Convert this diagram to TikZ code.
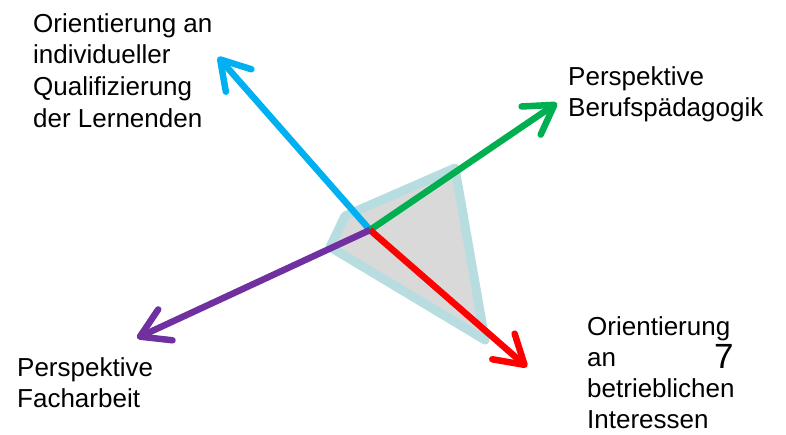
\documentclass[tikz,border=0pt]{standalone}
\usepackage{fontspec}
\setmainfont{Liberation Sans}
\usetikzlibrary{arrows.meta}
\definecolor{cblue}{HTML}{00B0F0}
\definecolor{cgreen}{HTML}{00B050}
\definecolor{cred}{HTML}{FF0000}
\definecolor{cpurple}{HTML}{7030A0}
\definecolor{cedge}{HTML}{B7DDE0}
\definecolor{cfill}{HTML}{D9D9D9}
\tikzset{
  vec/.style={line width=6.5pt, -{Straight Barb[length=28pt,width=34pt,line cap=round,line join=round]}},
  lbl/.style={align=left, anchor=north west, inner sep=0pt, font=\fontsize{26}{31.7}\selectfont},
}
\begin{document}
\begin{tikzpicture}[x=1pt,y=-1pt]
\useasboundingbox (0,0) rectangle (786,434);
\path[fill=cfill, draw=cedge, line width=9pt, line join=round]
  (455,168) -- (345,216) -- (330,247) -- (485,340) -- cycle;
\coordinate (c) at (370,230);
\coordinate (tb) at (218,57);
\coordinate (tg) at (557,103);
\coordinate (tr) at (527,367);
\coordinate (tp) at (137,338);
\draw[vec, cblue] (c) -- (tb);
\draw[vec, cgreen] (c) -- (tg);
\draw[vec, cred] (c) -- (tr);
\draw[vec, cpurple] (c) -- (tp);
\node[lbl] (l1) at (33,13) {Orientierung an\\individueller\\Qualifizierung\\der Lernenden};
\node[lbl] (l2) at (568,66) {Perspektive\\Berufspädagogik};
\node[lbl] (l3) at (17,357) {Perspektive\\Facharbeit};
\node[lbl, font=\fontsize{26}{31.2}\selectfont] (l4) at (587,316) {Orientierung\\an\\betrieblichen\\Interessen};
\node[anchor=base west, inner sep=0pt, font=\fontsize{35}{40}\selectfont] (n7) at (714,368) {7};
\end{tikzpicture}
\end{document}
